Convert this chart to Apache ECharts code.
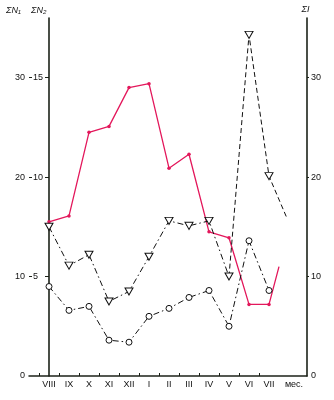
<!DOCTYPE html>
<html><head><meta charset="utf-8">
<script src="https://cdn.jsdelivr.net/npm/echarts@6/dist/echarts.min.js"></script>
<style>html,body{margin:0;padding:0;background:#fff}#c{width:334px;height:400px}</style>
</head><body><div id="c"></div>
<script>
const months = ['VIII','IX','X','XI','XII','I','II','III','IV','V','VI','VII'];
const unitLabel = 'мес.';
const leftTicksN1 = [0, 10, 20, 30];
const leftTicksN2 = [5, 10, 15];
const rightTicksI = [0, 10, 20, 30];
const redValues = [15.5, 16.1, 24.5, 25.1, 29.0, 29.4, 20.9, 22.3, 14.5, 13.9, 7.2, 7.2];
const redTail = [11.5, 11.0];
const triValues = [15.0, 11.1, 12.2, 7.5, 8.5, 12.0, 15.6, 15.1, 15.6, 10.0, 34.3, 20.1];
const triTail = [11.87, 16.0];
const circleValues = [9.0, 6.6, 7.0, 3.6, 3.4, 6.0, 6.8, 7.9, 8.6, 5.0, 13.6, 8.6];
const nameN1 = 'ΣN₁';
const nameN2 = 'ΣN₂';
const nameI = 'ΣI';

const FONT = 'Liberation Sans';
const AX = '#1c2218';
const RED = '#e3175b';

const pts = arr => arr.map((v, i) => [i, v]);

const redData = pts(redValues).concat([{ value: redTail, symbol: 'none' }]);
const triA = pts(triValues).slice(0, 10);
const triB = pts(triValues).slice(9).map((p, k) => k === 0 ? { value: p, symbol: 'none' } : p)
  .concat([{ value: triTail, symbol: 'none' }]);
const circData = pts(circleValues);

const monthTickVals = months.map((m, i) => i - 0.5);
const monthLabelVals = months.map((m, i) => i).concat([12.25]);

const chart = echarts.init(document.getElementById('c'), null, { renderer: 'canvas' });
chart.setOption({
  animation: false,
  backgroundColor: '#fff',
  grid: { left: 29, right: 27, top: 18, bottom: 24, containLabel: false },
  graphic: [
    { type: 'text', left: 6, top: 6, style: { text: nameN1, fill: '#111', font: 'italic 9px "Liberation Sans"' } },
    { type: 'text', left: 31, top: 6, style: { text: nameN2, fill: '#111', font: 'italic 9px "Liberation Sans"' } }
  ],
  xAxis: {
    type: 'value', min: -1, max: 12.9,
    axisLine: { lineStyle: { color: AX, width: 1.5 } },
    splitLine: { show: false },
    axisTick: { inside: true, length: 3, customValues: monthTickVals, lineStyle: { color: AX, width: 1 } },
    axisLabel: {
      customValues: monthLabelVals, margin: 4, color: '#111', fontFamily: FONT, fontSize: 9,
      formatter: v => v > 11.6 ? unitLabel : (months[Math.round(v)] || '')
    }
  },
  yAxis: [
    {
      type: 'value', position: 'left', min: 0, max: 36,
      axisLine: { show: true, lineStyle: { color: AX, width: 1.6 } },
      splitLine: { show: false },
      axisTick: { show: true, length: 4, customValues: [10, 20, 30], lineStyle: { color: AX, width: 1 } },
      axisLabel: { customValues: leftTicksN1, margin: 4, color: '#111', fontFamily: FONT, fontSize: 9 }
    },
    {
      type: 'value', position: 'right', min: 0, max: 36,
      name: nameI, nameLocation: 'end', nameGap: 4,
      nameTextStyle: { color: '#111', fontFamily: FONT, fontSize: 9, fontStyle: 'italic', padding: [0, 3, 0, 0] },
      axisLine: { show: true, lineStyle: { color: AX, width: 1.6 } },
      splitLine: { show: false },
      axisTick: { show: true, length: 2, customValues: [10, 20, 30], lineStyle: { color: AX, width: 1 } },
      axisLabel: { customValues: rightTicksI, margin: 4, color: '#111', fontFamily: FONT, fontSize: 9 }
    },
    {
      type: 'value', position: 'left', min: 0, max: 18,
      axisLine: { show: false },
      splitLine: { show: false },
      axisTick: { show: true, inside: true, length: 3, customValues: leftTicksN2, lineStyle: { color: AX, width: 1 } },
      axisLabel: { inside: true, customValues: leftTicksN2, margin: 4, color: '#111', fontFamily: FONT, fontSize: 9 }
    }
  ],
  series: [
    {
      type: 'line', yAxisIndex: 0, data: redData, z: 3,
      symbol: 'circle', symbolSize: 3.5,
      lineStyle: { color: RED, width: 1.3 },
      itemStyle: { color: RED }
    },
    {
      type: 'line', yAxisIndex: 1, data: triA, z: 4,
      symbol: 'triangle', symbolRotate: 180, symbolSize: [8, 7],
      lineStyle: { color: '#111', width: 1, type: [6, 3, 1.5, 3] },
      itemStyle: { color: '#fff', borderColor: '#111', borderWidth: 1 }
    },
    {
      type: 'line', yAxisIndex: 1, data: triB, z: 4,
      symbol: 'triangle', symbolRotate: 180, symbolSize: [8, 7],
      lineStyle: { color: '#111', width: 1, type: [5, 3] },
      itemStyle: { color: '#fff', borderColor: '#111', borderWidth: 1 }
    },
    {
      type: 'line', yAxisIndex: 0, data: circData, z: 4,
      symbol: 'circle', symbolSize: 6,
      lineStyle: { color: '#111', width: 1, type: [6, 3, 1.5, 3] },
      itemStyle: { color: '#fff', borderColor: '#111', borderWidth: 1 }
    }
  ]
});
</script></body></html>
